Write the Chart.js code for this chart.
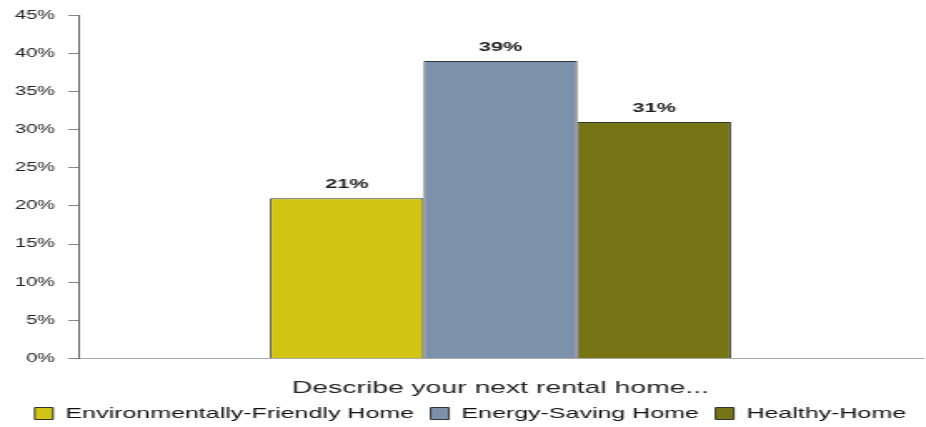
<!DOCTYPE html>
<html lang="en">
<head>
<meta charset="UTF-8">
<title>Next rental home</title>
<style>
  html, body { margin: 0; padding: 0; background: #fff; overflow: hidden; }
  /* chart is laid out narrow and widened, like the original export */
  #wrap { width: 556px; height: 427px; transform: scaleX(1.6655); transform-origin: 0 0; }
</style>
</head>
<body>
<div id="wrap"><canvas id="rental-chart"></canvas></div>
<script src="https://cdn.jsdelivr.net/npm/chart.js@4.4.1/dist/chart.umd.min.js"></script>
<script>
// one question, three answers
const categories = ['Describe your next rental home...'];
const seriesNames = ['Environmentally-Friendly Home', 'Energy-Saving Home', 'Healthy-Home'];
const seriesValues = [21, 39, 31];
const seriesColors = ['#d1c414', '#7b92aa', '#777416'];
const yTicks = [0, 5, 10, 15, 20, 25, 30, 35, 40, 45];

const FONT = 'Arial, "Liberation Sans", sans-serif';

// draws the bold percentage above each bar
const valueLabels = {
    id: 'valueLabels',
    afterDatasetsDraw(chart) {
        const ctx = chart.ctx;
        ctx.save();
        ctx.font = 'bold 13px ' + FONT;
        ctx.fillStyle = '#222';
        ctx.textAlign = 'center';
        ctx.textBaseline = 'bottom';
        chart.data.datasets.forEach((ds, i) => {
            const meta = chart.getDatasetMeta(i);
            meta.data.forEach((bar, j) => {
                ctx.fillText(ds.data[j] + '%', bar.x, bar.y - 7);
            });
        });
        ctx.restore();
    }
};

const datasets = seriesNames.map((name, i) => ({
    label: name,
    data: [seriesValues[i]],
    backgroundColor: seriesColors[i],
    borderColor: '#333',
    borderWidth: 1,
    barPercentage: 1,
    categoryPercentage: 0.546
}));

new Chart(document.getElementById('rental-chart'), {
    type: 'bar',
    data: { labels: categories, datasets: datasets },
    plugins: [valueLabels],
    options: {
        responsive: true,
        maintainAspectRatio: false,
        animation: false,
        layout: { padding: { top: 8, right: 2, left: 1, bottom: -4 } },
        plugins: {
            tooltip: { enabled: false },
            legend: {
                position: 'bottom',
                align: 'end',
                labels: {
                    boxWidth: 11,
                    boxHeight: 12,
                    padding: 10,
                    color: '#111',
                    font: { family: FONT, size: 15 }
                }
            }
        },
        scales: {
            x: {
                grid: { display: false },
                border: { display: true, color: '#aaa', width: 1 },
                ticks: { display: false },
                title: {
                    display: true,
                    text: categories[0],
                    color: '#222',
                    font: { family: FONT, size: 17 },
                    padding: { top: 12, bottom: -3 }
                }
            },
            y: {
                min: 0,
                max: 45,
                afterBuildTicks(axis) {
                    axis.ticks = yTicks.map(v => ({ value: v }));
                },
                border: { display: true, color: '#666', width: 1 },
                grid: {
                    drawOnChartArea: false,
                    drawTicks: true,
                    tickLength: 6,
                    color: '#888'
                },
                ticks: {
                    color: '#222',
                    padding: 8,
                    font: { family: FONT, size: 12 },
                    callback: v => v + '%'
                }
            }
        }
    }
});
</script>
</body>
</html>
